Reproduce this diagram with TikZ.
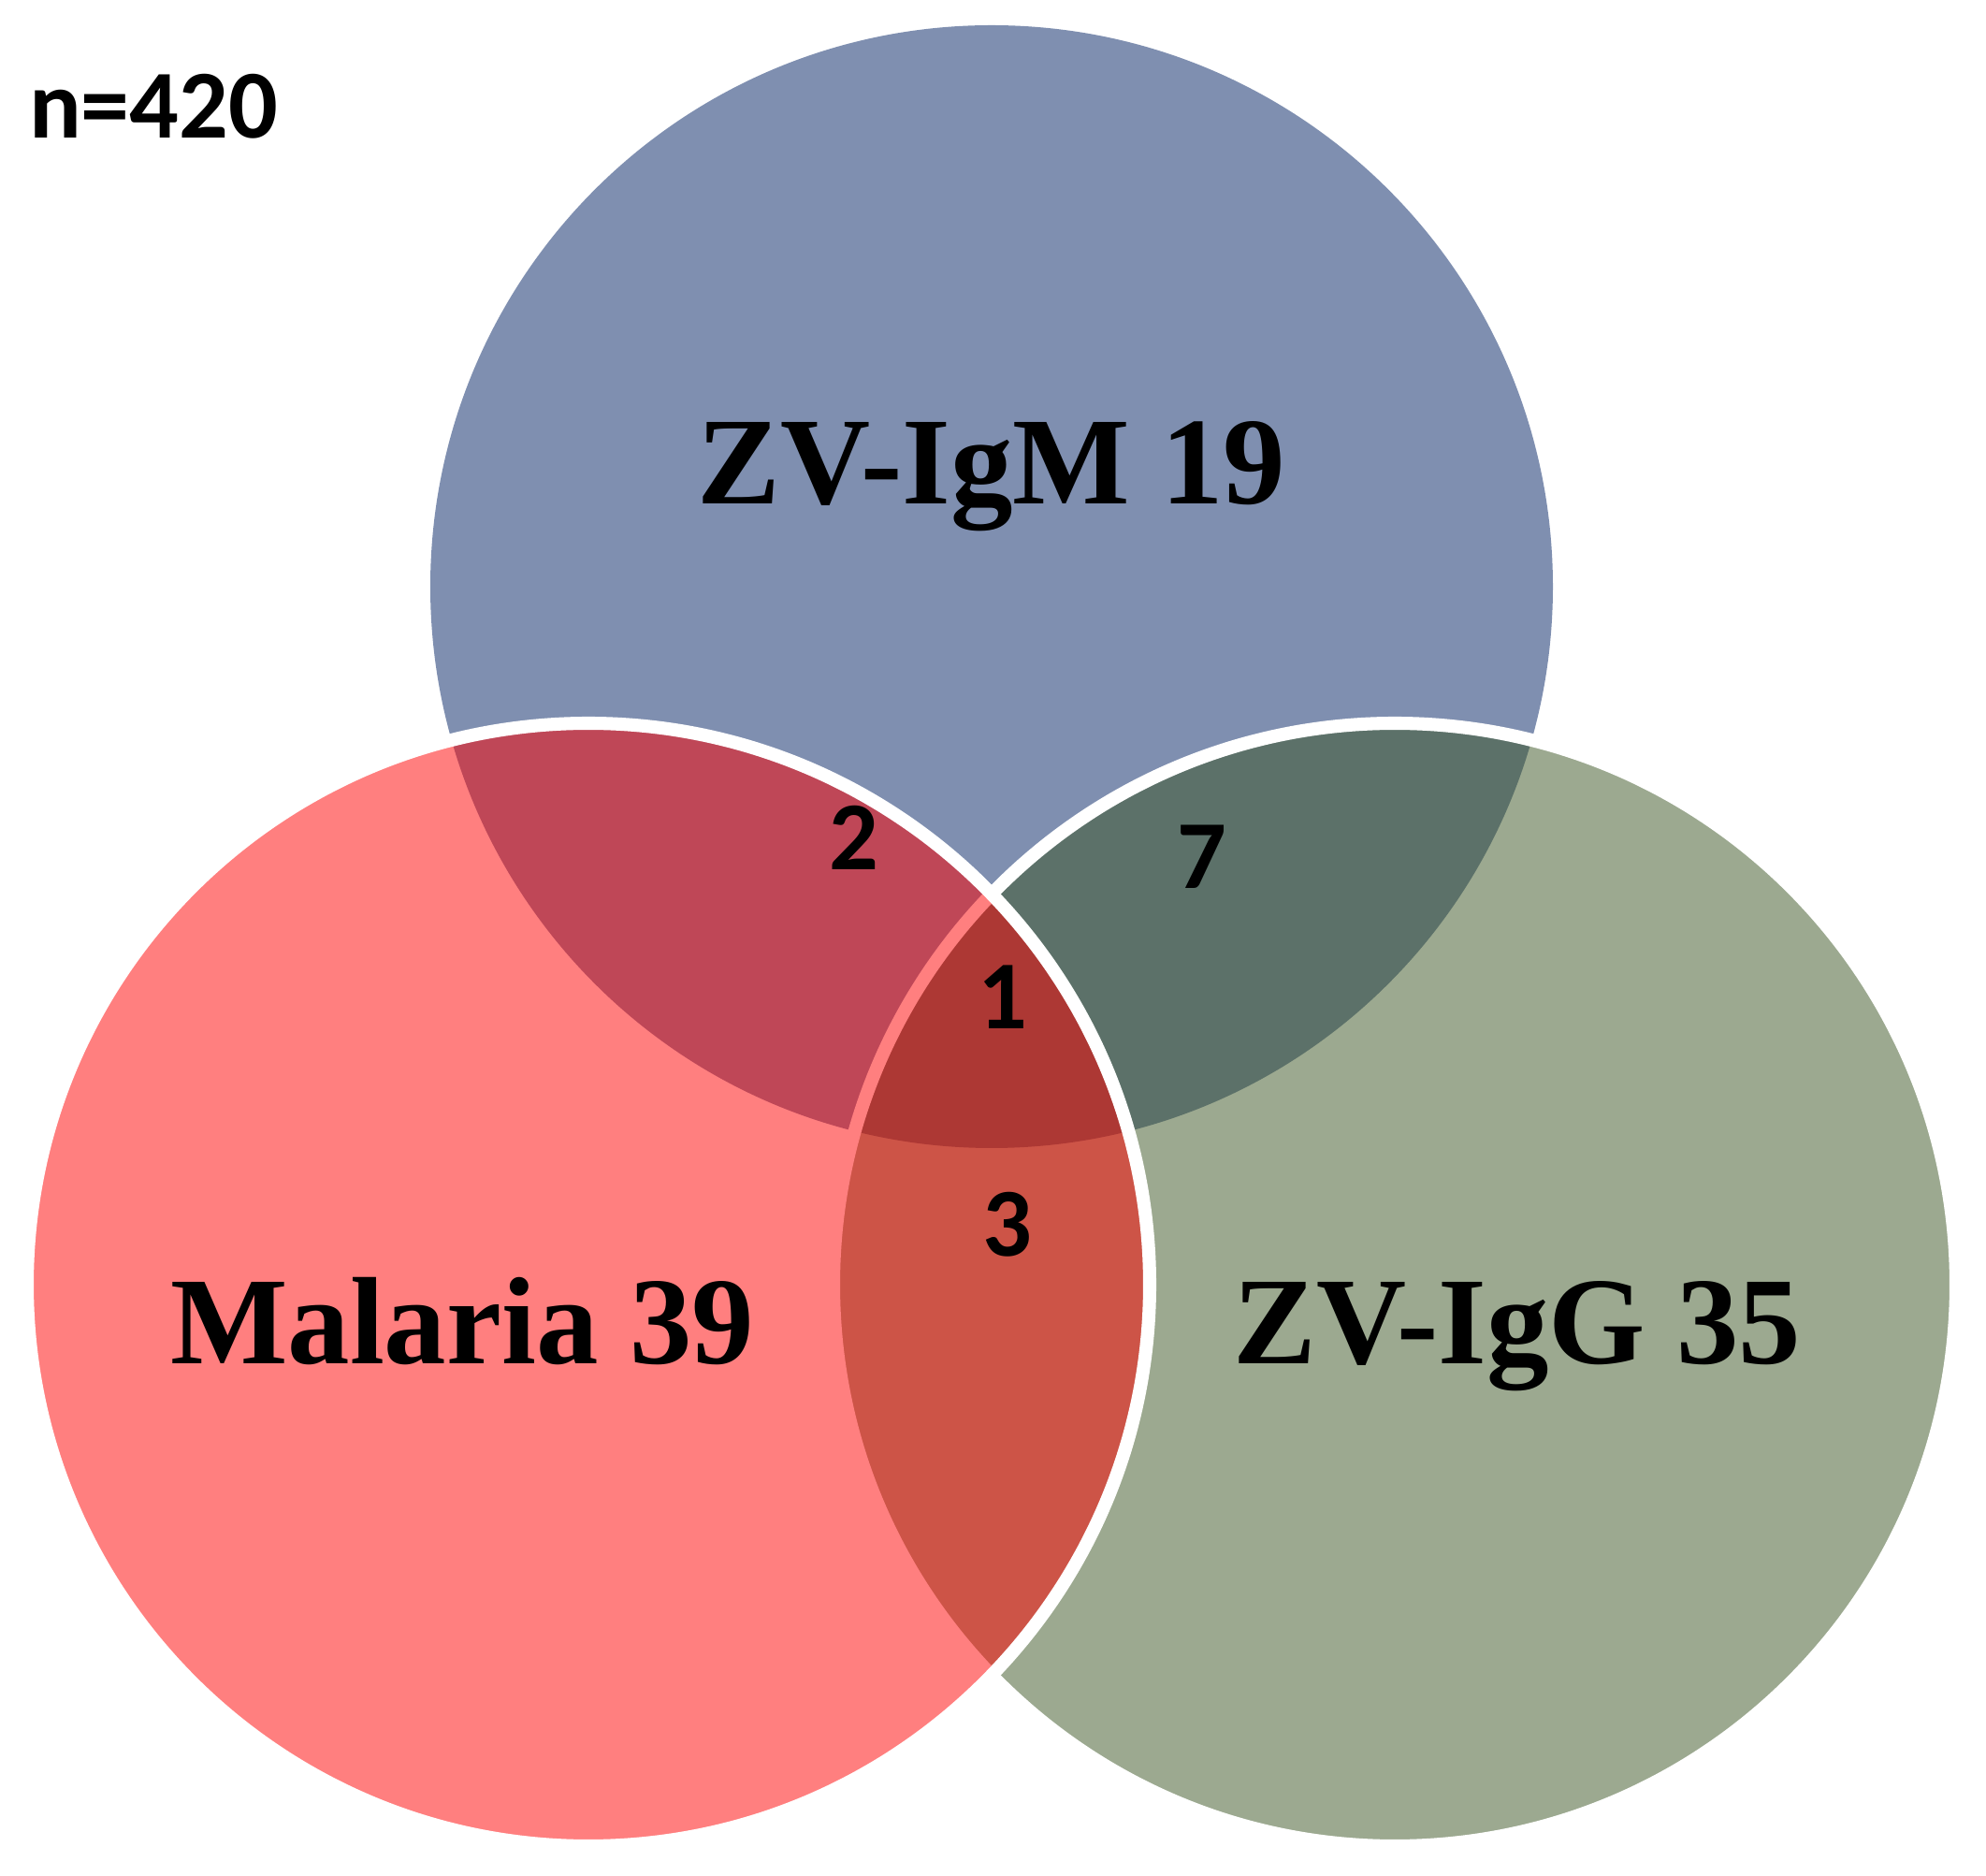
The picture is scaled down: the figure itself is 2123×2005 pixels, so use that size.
\documentclass[tikz,border=0pt]{standalone}
\usepackage{fontspec}
\setmainfont{Liberation Serif}
\newfontfamily\calib{Carlito}
\definecolor{igmblue}{RGB}{127,143,176}
\definecolor{iggolive}{RGB}{59,85,35}
\definecolor{malred}{RGB}{255,0,0}
\newcommand{\numtxt}[1]{{\calib\fontsize{29.6}{32}\selectfont\bfseries #1}}
\begin{document}
\begin{tikzpicture}[x=0.01cm,y=0.01cm,
  biglabel/.style={anchor=base,inner sep=0pt,font=\fontsize{37.8}{40}\selectfont\bfseries},
  numlabel/.style={anchor=base,inner sep=0pt}]
\useasboundingbox (0,0) rectangle (2123,2005);
\fill[white] (0,0) rectangle (2123,2005);
% circles
\coordinate (cB) at (1060,1378);
\coordinate (cR) at (629,632);
\coordinate (cG) at (1491,632);
\fill[igmblue] (cB) circle[radius=600];
\draw[fill=iggolive,fill opacity=0.5,draw=white,line width=4] (cG) circle[radius=600];
\draw[fill=malred,fill opacity=0.5,draw=white,line width=4] (cR) circle[radius=600];
% labels
\node[biglabel] (igm) at (1060,1466) {ZV-IgM 19};
\node[biglabel] (mal) at (494,547) {Malaria 39};
\node[biglabel] (igg) at (1622,547) {ZV-IgG 35};
\node[numlabel] (n) at (164,1857) {\numtxt{n=420}};
\node[numlabel] (two) at (913,1075) {\numtxt{2}};
\node[numlabel] (seven) at (1285,1055) {\numtxt{7}};
\node[numlabel] (one) at (1072,905) {\numtxt{1}};
\node[numlabel] (three) at (1077,662) {\numtxt{3}};
\end{tikzpicture}
\end{document}
